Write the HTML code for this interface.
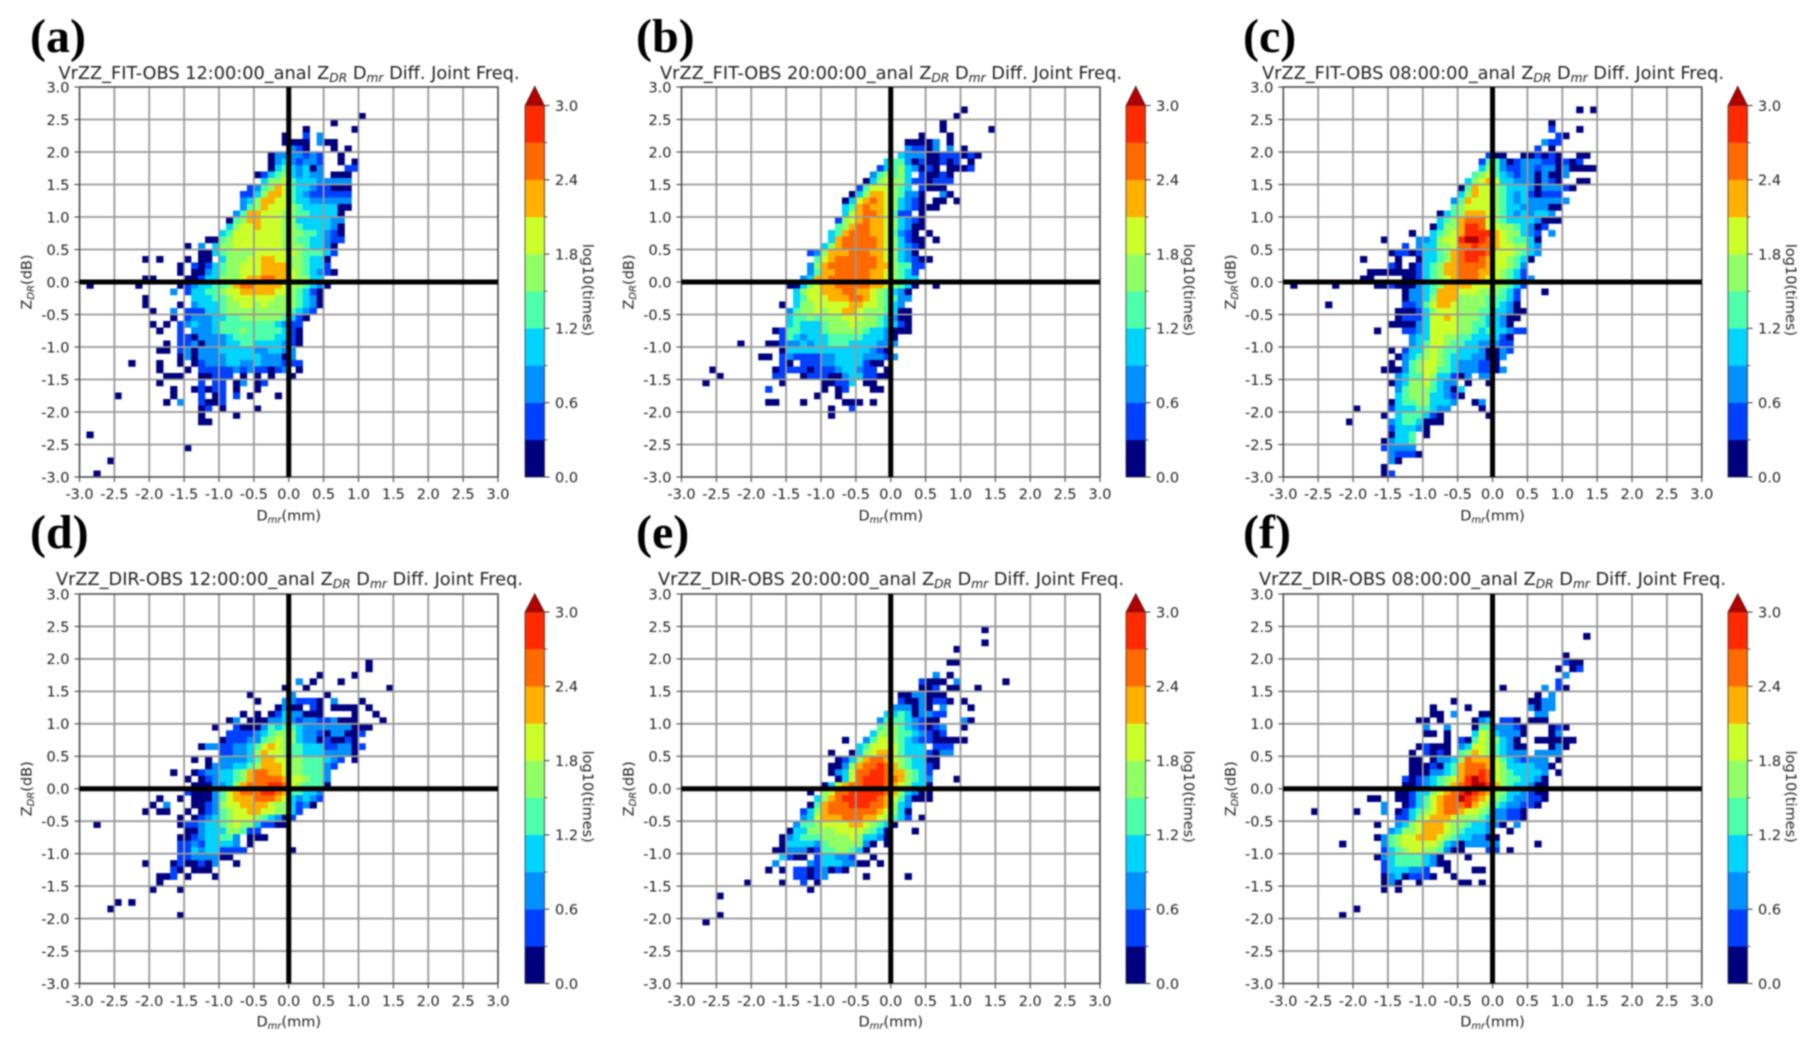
<!DOCTYPE html>
<html lang="en">
<head>
<meta charset="utf-8">
<title>ZDR Dmr Diff. Joint Frequency</title>
<style>
html,body{margin:0;padding:0;background:#fff;width:1816px;height:1048px;overflow:hidden}
svg{display:block;filter:blur(.7px)}
text{font-family:"DejaVu Sans","Liberation Sans",sans-serif;fill:#222}
.letter{font-family:"Liberation Serif",serif;font-weight:bold;font-size:48px;fill:#000}
</style>
</head>
<body>
<svg id="figure" xmlns="http://www.w3.org/2000/svg" width="1816" height="1048" viewBox="0 0 1816 1048"></svg>
<script>
// Every row fragment: [yBin, xBin, band, band, ...]. Bins are 0.1 wide (yBin 3 = 0.3..0.4, xBin -2 = -0.2..-0.1).
// band = log10(times) / 0.3, so band 4 is 1.2..1.5; _ = no samples.
const _ = null;
const panelLetters = ['(a)','(b)','(c)','(d)','(e)','(f)'];
const panelRuns = ['FIT','FIT','FIT','DIR','DIR','DIR'];
const panelTimes = ['12:00:00','20:00:00','08:00:00','12:00:00','20:00:00','08:00:00'];
const xTicks = [-3,-2.5,-2,-1.5,-1,-0.5,0,0.5,1,1.5,2,2.5,3];
const yTicks = [-3,-2.5,-2,-1.5,-1,-0.5,0,0.5,1,1.5,2,2.5,3];
const cbTicks = [0,0.6,1.2,1.8,2.4,3];
const cbMinor = [0.3,0.9,1.5,2.1,2.7];
const bandColors = ['#00007f','#0040ff','#0090ff','#00d4ff','#4dffaa','#90ff66','#ccff2a','#ffb000','#ff6a00','#ff2a00','#b00000'];

const freqA = [
[25,10,0],[24,6,0],[23,2,0],[23,9,0],[22,-1,0,_,_,1],[22,4,2],[21,-1,0,0,0,0],[21,4,2,0,0],[20,0,2,1,0],[20,6,0],[20,8,0],
[19,-3,0,2,2,2,2,1,2,1],[19,7,0],[18,-3,0,2,3,2,1,2,2,1],[18,7,0],[18,9,0],[17,-3,0,3,4,3,2,3,0,2],[17,8,1,1],
[16,-5,0,1,3,4,5,3,2,3,2,2],[16,6,0,0,0],[15,-4,3,5,5,6,4,3,3,3,2,2,2,2,2],[14,-6,1,2,4,5,7,6,4,3,3,2,1,1,0,0,0],
[13,-7,1,1,3,5,7,7,6,4,3,2,1,1,1,1,1,1],[12,-7,2,3,5,7,7,6,6,4,3,3,2,2,2,2,2,2],[11,-7,2,4,5,7,6,6,6,5,4,3,3,3,3,3,0,0],
[10,-8,2,4,7,7,6,6,6,5,5,4,4,3,3,3,3,0],[9,-9,0,4,5,7,7,6,6,6,5,5,3,3,3,3,3,2,2],[8,-9,3,5,6,6,7,6,6,6,5,5,4,3,3,3,3,2,0],
[7,-10,3,4,6,6,6,6,6,6,6,5,5,5,4,4,3,2,1,0],[6,-12,0,0,4,5,6,6,6,6,6,6,6,5,5,4,4,3,3,2,1,1],[5,-15,0],[5,-13,2],
[5,-11,3,5,5,6,6,6,6,6,6,6,5,5,5,4,3,3,2,0],[4,-13,0,0],[4,-11,3,4,5,5,5,5,6,6,6,6,6,6,5,4,4,4,3,1],[3,-21,0],[3,-19,0],[3,-15,0],
[3,-13,0,0],[3,-10,3,5,5,5,6,6,7,7,6,6,5,5,4,3,3,0],[2,-16,0],[2,-14,1,0,1,3,4,5,5,6,6,6,7,7,7,7,5,5,4,3,3,1],
[1,-16,0],[1,-14,0,0,2,3,4,5,5,6,6,6,7,7,7,7,6,5,4,3,2,1],[1,6,0],[0,-21,0,0],[0,-15,0,0,1,3,3,5,5,5,6,7,7,8,8,7,7,6,5,5,3,3],
[-1,-29,0],[-1,-22,0],[-1,-16,0,1,2,3,3,4,4,5,7,8,8,7,7,7,7,6,5,5,4,3,2,0],[-2,-17,2],[-2,-15,1,3,3,4,4,5,6,6,7,7,7,7,7,6,6,5,4,3,1,0],
[-3,-21,0],[-3,-14,3,3,3,4,4,5,6,6,6,6,6,6,5,5,5,4,3,2,0],[-4,-21,0],[-4,-16,0],[-4,-14,2,3,3,3,4,5,5,6,6,5,6,5,5,5,5,4,3,2,0],
[-5,-20,0],[-5,-17,2],[-5,-15,1,1,1,3,3,4,5,5,5,5,5,5,5,5,5,4,3,2,1],[-6,-17,0],[-6,-15,1,2,2,2,3,3,4,4,5,5,5,5,5,5,4,3,1,0],
[-7,-20,0],[-7,-18,0],[-7,-16,1,2,3,2,2,3,4,4,4,4,4,4,4,4,3,2,1,1],[-8,-19,0],[-8,-16,1],[-8,-14,2,2,2,3,4,4,4,5,4,4,4,4,4,3,1,0],
[-9,-16,1,1,0,2,2,2,2,3,4,4,4,4,4,4,3,3,1,0],[-10,-18,0],[-10,-16,1,1,2,0,2,2,2,3,3,4,4,3,3,3,3,2,1,0],
[-11,-19,0,0],[-11,-16,1,2,0,2,2,2,3,3,3,3,3,2,2,3,3,2,2],[-12,-16,0,2,0,2,2,2,2,3,3,3,3,3,2,2,2,0,2],
[-13,-23,0],[-13,-19,0],[-13,-16,0],[-13,-14,0,1,2,2,2,3,3,2,2,3,2,2,2,1,1,1],[-14,-19,0],[-14,-15,0],[-14,-13,1,1,1,1,1,2,1,2,1,1,0,1,2],[-14,1,0],
[-15,-18,0,0,0],[-15,-13,0,0,1,1,1],[-15,-7,0],[-15,-5,0],[-15,-3,0],[-15,0,0],[-16,-19,0],[-16,-13,1],[-16,-11,1,1],[-16,-8,0,2],[-16,-5,0,1],
[-17,-17,0],[-17,-14,0,1,0,1,1],[-17,-8,0],[-17,-5,0],[-18,-25,0],[-18,-17,0],[-18,-13,1],[-18,-11,0,1],[-18,-8,1],[-18,-6,0],[-18,-2,0],
[-19,-18,0],[-19,-16,2],[-19,-13,1,0,0,1],[-20,-13,0,1],[-20,-10,0],[-20,-5,0],[-21,-13,0],[-21,-8,0],[-22,-13,0,0],
[-24,-29,0],[-26,-15,0],[-28,-26,0],[-30,-28,0]
];
const freqB = [
[26,10,0],[25,9,0],[24,7,0],[23,7,0],[23,14,0],[22,4,0],[22,8,0],[21,2,0,0,0,0,2],[21,8,0],[20,2,2,1,1,0,2],[20,8,2],[20,10,0],
[19,1,3,2,2,2,0,0,1,1,1,0,1],[19,12,0],[18,-1,3,4,4,2,0,1,0,0,1,0,1],[18,11,0],[17,-2,1,3,4,5,3,2,0,1,0,_,0,0,0,1],
[16,-3,2,4,5,4,5,3,_,1,0,0,1,0],[15,-4,0,3,5,6,5,5,3,1,1,0,1,1,1],[14,-5,1,4,6,6,6,5,4,3,_,1,0,0,0],[13,-6,0,3,5,7,7,6,5,4,2,2,0,_,_,2,0],
[12,-7,0,3,6,7,8,7,6,5,3,2,1,0],[12,6,0,0],[12,9,0],[11,-7,3,4,7,8,7,7,6,5,3,2,1,0,0,0],[10,-7,3,6,7,8,8,7,6,4,1,1,_,0],
[9,-8,1,5,6,7,8,7,7,6,5,3,2,1,0],[8,-8,4,5,7,8,8,7,7,6,5,3,2,0,0],[7,-9,3,4,7,8,8,8,7,7,6,4,2,1,0,_,0],[6,-9,3,7,8,8,8,8,8,7,6,5,3,1,0,0],[6,6,0],
[5,-10,3,5,7,8,8,8,8,8,7,6,5,3,2,1,0],[4,-12,1,2,5,7,7,7,8,8,8,7,7,6,5,3,2,0],[3,-11,4,6,7,8,8,8,8,8,8,7,6,5,3,2,1,0,0],
[2,-12,2,5,7,8,8,8,8,8,8,8,7,7,5,4,4,1,1],[1,-12,2,4,7,7,8,8,8,8,8,7,7,6,5,4,3,1],[0,-13,2,3,7,7,8,8,8,8,8,8,7,7,6,5,4,3,3],
[-1,-15,0,0,3,5,6,7,7,8,8,8,8,8,7,7,6,5,4,3],[-1,3,0],[-1,6,0],[-2,-14,3,5,6,6,7,7,7,8,8,7,7,6,5,4,3,2,0],[-3,-14,3,4,6,6,6,7,7,7,8,8,7,6,5,4,4,2,2],
[-4,-16,0],[-4,-14,3,5,5,6,6,6,6,6,7,7,6,6,5,4,3,2],[-5,-15,2,4,5,5,6,5,6,6,7,7,6,5,5,5,4,3,0,0],[-6,-15,3,4,4,5,4,5,5,5,6,6,6,5,5,4,3,2,0,0],
[-7,-15,3,4,3,3,3,4,5,5,5,6,5,5,5,4,3,3,1,0],[-8,-17,0,1,4,4,3,3,3,4,5,5,5,5,5,4,3,3,2,0,0,0],[-9,-16,1,4,3,2,3,3,3,4,4,4,4,4,3,3,3,2,0],
[-10,-22,0],[-10,-18,0,0,1,2,2,3,2,3,3,4,4,4,3,3,3,3,2,2,2],[-11,-16,0,3,3,3,3,3,3,3,3,3,3,3,3,2,1,0],[-12,-19,0,0],[-12,-16,1,2,1,1,1,1,2,2,3,3,3,3,2,2,2,1],[-12,0,2],
[-13,-16,1,0,_,1,1,1,2,2,3,3,3,3,1,0,0],[-14,-26,0],[-14,-17,0,1,1,1,1,0,1,1,1,2,3,3,2,1,1,_,0],[-15,-25,0],[-15,-17,1,1],[-15,-13,0,1,1,1,0,0,2,3,3,1,1,0,0],
[-16,-27,0],[-16,-16,0],[-16,-10,0,0,1,1,3],[-16,-4,0,0],[-17,-18,1],[-17,-10,0],[-17,-8,0,1],[-17,-3,0,0],[-18,-11,0],[-18,-8,0],
[-19,-18,0,0],[-19,-13,0],[-19,-7,0,0,0],[-19,-3,0],[-20,-9,0],[-20,-6,1],[-21,-9,0]
];
const freqC = [
[26,12,0],[26,14,0],[24,8,0],[23,8,1],[23,12,0],[22,9,1,0],[21,7,2,1,1],[20,6,1],[20,8,0],[19,-1,1,0,0],[19,4,0,0,1,0,1,0],[19,12,0,0],
[18,-2,1,4,4,2,0,1,2,2,2,1,1,0,1,0,1],[17,-2,3,5,4,2,1,1,2,2,1,2,2,0,2,0,0,0,0],[16,-3,4,5,6,4,3,2,1,2,2,0,2,0,0,2],[15,-4,3,5,6,7,6,3,3,2,2,2,0,2,1,0],[15,12,0,0],
[14,-5,0,4,7,6,6,5,4,3,3,3,2,0,2,2,2,1,0],[13,-5,3,5,7,6,6,5,4,3,2,3,1,0,1,1,1],[12,-6,2,4,7,6,6,6,5,4,3,2,3,2,2,2,2,2,2],
[11,-6,4,5,6,6,6,6,5,4,3,3,2,2,2,2,0,0],[10,-8,0,3,4,5,7,7,7,6,5,4,3,2,3,2,3,3,2],[9,-8,3,4,5,7,8,8,8,6,5,4,3,3,3,3,2,0,0,0],
[8,-9,0,3,5,5,7,9,9,8,6,6,5,5,4,3,2,0,1],[7,-12,0],[7,-9,3,4,5,6,7,9,9,9,9,7,6,5,5,3,2,1],[7,8,2],
[6,-16,0],[6,-11,2,2,3,5,6,6,9,10,10,9,8,7,6,5,4,4,3,0],[5,-13,1],[5,-11,2,3,3,5,5,6,8,8,9,8,8,7,6,6,5,5,3,2],
[4,-15,0,1,1,0,1,3,3,4,5,7,8,9,9,9,8,6,6,6,5,4,3,2],[3,-19,0],[3,-14,0],[3,-11,0,3,3,4,5,7,8,9,9,8,7,6,6,5,4,3,0],
[2,-15,1,0],[2,-12,0,1,3,4,5,7,7,8,8,8,8,7,6,6,5,4,2],[1,-18,0,0,0,0,0,0],[1,-12,0,1,3,4,5,7,7,8,8,8,7,7,6,5,4,3,1],
[0,-19,0,0],[0,-13,0,0,1,3,4,5,6,7,8,8,8,7,6,6,5,4,3,1,2],[-1,-29,0],[-1,-23,0],[-1,-17,0,0,1,0,0,0,2,3,4,5,7,7,7,7,6,6,6,5,5,4,3,1],
[-2,-13,0,2,2,3,4,7,7,7,6,6,6,5,5,5,4,3,1],[-2,7,0],[-3,-13,0,2,2,3,5,7,7,7,5,5,5,5,4,4,4,3,1],[-4,-24,0],[-4,-13,1,1,2,4,6,7,7,6,5,5,5,5,4,4,3,2,0],
[-5,-14,0,0,0,1,3,5,6,6,6,5,5,5,4,4,3,3,2,0,0],[-6,-14,0,1,1,1,3,6,6,7,6,5,5,5,4,3,3,2,0,0],[-7,-15,0,0,0,0,2,3,6,6,6,6,5,5,4,4,3,3,2,0],
[-8,-17,0],[-8,-13,1,1,2,3,6,6,6,6,5,5,4,3,4,3,3,2,1,1],[-9,-12,2,3,3,6,6,5,5,4,4,3,3,3,3,1,0],[-10,-12,2,3,4,6,6,5,4,4,3,3,2,2,2,1,1],
[-11,-15,0],[-11,-13,1,3,3,5,6,5,4,4,3,3,3,2,0,0,2,1],[-12,-14,0,2,3,4,5,6,5,4,3,3,3,2,2,0,0,2],[-13,-15,0],[-13,-13,2,4,5,6,6,5,4,3,2,2,2,1,1,0],
[-14,-16,0,0,0,2,4,5,6,6,4,4,3,2,2,2,1,1,0,2],[-15,-14,2,3,4,4,6,5,3,3,1,0,2],[-15,-2,2,2],[-16,-15,0,2,3,5,5,6,4,3,2,2],[-16,-4,0],[-16,-1,0],
[-17,-14,2,4,5,5,5,4,3,2,0,3],[-18,-14,3,4,5,5,5,3,3,2,1,0],[-19,-15,0,3,4,4,5,5,3,3,3,2],[-19,-3,0,2],[-20,-20,0],[-20,-15,1,3,3,3,4,4,3,2,2],[-20,-2,0],
[-21,-16,0],[-21,-14,3,4,4,4,3,1,0],[-21,-1,0],[-22,-21,0],[-22,-15,2,3,4,4,3,0,0,0],[-23,-15,1,3,3,3,2,0],[-24,-15,0,3,3,4,_,0],
[-25,-16,0,2,3,3,4],[-26,-16,1,2,2,2,2],[-27,-15,2,1,1,1,0],[-28,-15,2,0],[-29,-16,0],[-30,-16,0,1]
];
const freqD = [
[19,11,0],[18,11,0],[17,4,0],[17,9,0],[16,1,2],[16,3,0],[16,7,0],[15,-1,0],[15,2,0],[15,14,0],[14,-6,0],[14,0,2],[14,5,0],
[13,-5,0],[13,-1,2,2,1,1,1,0],[13,6,2],[13,10,0],[12,-2,0,2,0,0,_,1,0],[12,6,0,0,0,0],[12,11,0],[11,-7,0],[11,-5,0],[11,-3,0,1,3,2,2,0,0,0],[11,9,0],[11,12,0],
[10,-9,0,2],[10,-6,0,0,0,2,2,3,2,1,2,2,1,1,2,0,0,0],[10,13,0],[9,-11,0],[9,-8,1,0,0,0,2,4,3,4,4,3,2,2,2,2,2,2,2,0,0,0],
[8,-9,1,1,1,1,2,3,4,5,5,5,3,2,2,1,0,2,2,0,0,1],[7,-10,0,1,1,1,2,2,4,5,6,5,5,3,2,2,0,1,0,0,1,0],[6,-13,0],[6,-12,2,2],[6,-10,1,1,2,2,3,4,6,7,6,5,4,4,3,3,3,1,1,2,2,0,1],
[5,-10,1,1,2,2,3,5,7,6,6,5,4,4,3,3,3,2,2,2,2,0],[4,-14,0],[4,-12,0],[4,-10,2,2,2,2,3,4,7,7,6,6,5,5,4,4,4,3,2,1,_,0],[3,-12,0,2,2,2,3,3,4,5,7,7,7,6,5,5,4,4,4,2,1],
[2,-17,0],[2,-14,0,1,2,2,3,3,4,5,7,8,8,7,7,6,5,5,4,4,4,2],[1,-15,0],[1,-13,0,1,2,3,3,4,5,7,8,8,8,8,7,6,6,5,4,4,2],[0,-14,0,0,0,2,2,3,5,7,8,8,8,9,9,8,6,5,4,4,4,0],
[-1,-15,1,0,0,0,2,4,6,7,8,8,8,9,9,8,7,4,4,3,3,2],[-2,-19,0],[-2,-16,0],[-2,-14,0,0,0,2,4,6,7,7,7,8,8,8,7,6,3,2,3,2,1],[-3,-20,0,_,2],[-3,-14,0,0,1,2,5,6,6,7,7,7,7,6,5,5,3,1,2,0],
[-4,-21,0],[-4,-19,0,0],[-4,-15,0],[-4,-13,0,1,2,4,5,6,6,7,7,6,6,5,5,3,1],[-5,-16,0],[-5,-14,0,1,2,3,4,5,6,6,6,5,4,3,2,0,1],[-6,-28,0],[-6,-16,0,1,1,2,3,3,4,5,6,5,5,3,1,1,0,0],
[-7,-15,0,0,2,3,3,3,5,5,4,1,1],[-8,-16,0,0,1,2,3,3,4,4,2,_,0,0,0],[-9,-16,1,1,2,1,3,3,3,3,2,_,0],[-10,-16,1,1,3,2,3,3,1,1,1,1],[-10,0,0],[-11,-16,1,1,2,2,2,2,0,0],
[-12,-21,0],[-12,-17,0,1,0,0,1,0,2],[-12,-8,0],[-13,-17,1,0,_,0,0,0],[-14,-19,0,0,1],[-14,-15,0],[-14,-11,0],[-15,-19,0],[-16,-20,0],[-16,-16,0],
[-18,-25,0],[-18,-23,0],[-19,-26,0],[-20,-16,0]
];
const freqE = [
[24,13,0],[22,13,0],[21,9,0],[19,8,0,0],[17,6,2],[17,8,0],[16,4,1,0,0,0],[16,9,2],[16,16,0],[15,4,0,0,1],[15,8,0,0],[15,12,0],[14,1,0,0,2,2,0,0,0],
[13,1,1,0,0,2,0,1,1,0],[13,10,0],[12,0,2,2,2,0,2,0,_,2],[12,11,0],[11,-1,3,3,4,3,0,2,2,1,1],[10,-2,2,4,4,4,3,2,1,0,0],[10,10,2,0],[9,-2,4,5,5,4,3,2,1,0,1,2],[9,10,0],
[8,-3,3,5,5,5,4,4,3,2,1,0,1],[7,-7,0],[7,-4,2,4,6,6,5,4,3,2,1,1,0,0,0,0,0],[6,-5,3,4,6,6,6,6,4,3,3,3,_,1,1,1],[5,-9,0],[5,-6,0,3,5,6,7,7,6,4,3,3,3,1,0,2,2],
[4,-8,0,1,3,5,7,8,8,7,6,5,4,3,3,0,0],[3,-9,0,0,2,5,7,8,8,9,8,7,5,4,3,3,1,0],[2,-9,0,2,3,6,8,8,9,9,8,7,7,5,4,3,1],[1,-8,0,3,6,8,9,9,9,8,8,7,5,4,3,2],[1,9,0],
[0,-10,0],[0,-9,3,6,7,8,8,9,9,9,8,7,6,5,3,3],[0,5,0],[-1,-12,0],[-1,-10,5,6,8,8,9,9,9,9,9,8,7,5,3,2,0,0],[-2,-11,3,5,7,8,9,9,9,9,9,8,7,6,4,2,0,0,0],
[-3,-12,0,4,7,8,8,8,9,9,9,8,8,7,5,3,2],[-4,-13,1,3,5,7,8,8,8,8,8,8,8,7,6,5,3,0],[-5,-13,2,3,6,7,7,7,8,8,8,7,7,6,5,4,3,1,_,0],[-6,-14,2,4,4,5,6,6,6,6,7,7,6,5,4,3,0],
[-7,-15,0,3,3,5,5,5,5,6,6,6,6,5,4,3,0],[-7,3,0],[-8,-16,0,2,3,4,4,4,5,5,5,5,6,5,3,3,2,0],[-9,-16,0,3,3,3,3,2,4,5,5,5,5,5,2,0],[-9,-1,0],
[-10,-17,0,0,2,2,2,0,1,4,4,5,5,4,3,0],[-11,-16,3,1,0,0,_,1,3,3,2,2,1],[-11,-3,0],[-12,-17,2],[-12,-12,2,1,3,3,3,2,2],[-12,-5,0,0],[-12,-2,0],
[-13,-18,0],[-13,-16,0],[-13,-14,1,1,0,1,2,0,1,0],[-14,-14,1,1,0,1,2],[-14,-4,0],[-14,2,0],[-15,-21,0],[-15,-16,0],[-15,-13,1,_,0],[-16,-12,0],
[-17,-25,0],[-20,-25,0],[-21,-27,0]
];
const freqF = [
[23,13,0],[20,10,0],[19,10,1,0,0],[18,9,0],[18,11,0,1],[17,10,2],[16,9,1],[15,1,0],[15,7,2],[15,9,1,0],[14,6,0],[14,8,2],[13,-6,0],[13,5,0,0,2,2],
[12,-9,0],[12,-4,0],[12,5,2,0,2,2],[11,-9,0,0],[11,-6,2],[11,-2,0,0],[11,6,2,2],[10,-11,0,0],[10,-8,0],[10,-3,0,2,3],[10,1,1,1,0,_,0,0,0],
[9,-10,2],[9,-7,2],[9,-3,0,4,4,2,2,2,1,0],[9,8,0,1,0],[8,-10,0,0],[8,-7,0],[8,-3,3,6,5,3,2,2,2,0],[8,8,0,2],
[7,-7,0],[7,-5,1,0,4,6,5,5,3,2,0],[7,6,0,0,0,0,0,0],[6,-11,0,1,0,0,0],[6,-5,2,3,6,6,5,4,3,2,0,0],[6,8,0,2,0],[5,-12,0],[5,-10,1,0,1,0],[5,-5,4,5,7,6,5,4,3,2,2,2],[5,6,2,2,2,2],
[4,-12,0,0,_,0,2,2,3,5,8,7,7,7,6,4,3,2,1,2,2,2,_,0],[3,-12,0,0,0,1,0,3,4,7,8,8,8,7,6,5,3,3,3,3,2,2,0],[2,-12,0,0,0,2,2,3,4,7,8,8,9,8,6,5,4,3,3,3,3,2,_,0],
[1,-13,1,0,1,2,3,4,5,6,7,9,10,9,8,6,5,4,4,3,3,2,0],[0,-13,0,0,1,2,3,4,5,7,8,9,10,10,9,7,5,4,3,3,2,0,0],[-1,-14,0,0,1,3,3,5,6,7,8,9,10,9,8,7,5,5,3,3,2,1,0,0],
[-2,-18,0,0],[-2,-14,0,0,1,3,4,6,7,8,8,10,9,8,7,6,5,4,3,2,2,1,1,0],[-3,-16,2],[-3,-13,0,1,3,4,6,7,8,8,8,9,7,6,5,4,3,2,2,1,1,0],
[-4,-26,0],[-4,-20,0],[-4,-16,2],[-4,-14,0,1,3,4,5,6,7,8,8,7,6,6,5,4,2,2,1,1,0],[-5,-14,1,1,3,5,6,7,7,7,6,5,5,5,4,3,2,2,1,1,0],
[-6,-17,0],[-6,-14,2,3,5,6,7,7,7,6,5,5,4,3,3,2,2,0,_,2],[-7,-15,2,3,5,5,6,7,7,7,6,5,4,3,3,3,2],[-7,2,0],[-8,-17,0,2,4,5,6,6,7,7,7,6,5,4,3,3,2,2,0,0],
[-9,-22,0],[-9,-16,2,4,5,6,6,6,6,6,5,3,2,0,2,2,2,2,2],[-9,6,0],[-10,-16,1,3,4,5,6,6,5,5,4,2,0,0],[-10,-1,1,1],[-10,2,0],
[-11,-17,0,2,3,4,4,4,4,3,2,0],[-11,-4,0],[-12,-16,1,3,4,4,4,4,3,2,0,0],[-13,-16,1,3,3,3,2,2,1],[-13,-7,0],[-13,-3,0,0],[-14,-16,0,2,3,0,1,1,1,0],[-14,-6,0],
[-15,-16,0,2,0],[-15,-11,0],[-15,-5,0,0],[-15,-2,0],[-16,-16,0],[-16,-14,0],[-19,-20,0],[-20,-22,0]
];
const panelFreq = [freqA,freqB,freqC,freqD,freqE,freqF];

const svgNS = 'http://www.w3.org/2000/svg';
const figure = document.getElementById('figure');
const plotWidth = 418.5;
const axisMin = -3, axisMax = 3, cbMax = 3;
const columns = [
  {left:79.5, cb:525, letter:30, titleL:[58.5,461], titleR:[56,467]},
  {left:681.5, cb:1126, letter:636, titleL:[660,462], titleR:[658,466]},
  {left:1283.3, cb:1728, letter:1243, titleL:[1262,462], titleR:[1259,467]}
];
const rowsLayout = [
  {top:87, bottom:477, cbTop:105.5, tip:86, letterY:52, titleY:79, tickY:499, labelY:520.5},
  {top:594, bottom:983.5, cbTop:612, tip:593.4, letterY:548, titleY:585, tickY:1006, labelY:1026.5}
];

function make(tag, attrs, parent, text) {
  const el = document.createElementNS(svgNS, tag);
  for (const k in attrs) el.setAttribute(k, attrs[k]);
  if (text !== undefined) el.textContent = text;
  parent.appendChild(el);
  return el;
}
function fmt(v) { return v.toFixed(1); }
function subscripted(el, pieces) {
  pieces.forEach(function (p) {
    const t = make('tspan', {}, el, p[0]);
    if (p[1]) {
      t.setAttribute('font-style', 'italic');
      t.setAttribute('font-size', p[1]);
      t.setAttribute('dy', p[2]);
    } else if (p[2]) {
      t.setAttribute('dy', p[2]);
    }
  });
}

panelFreq.forEach(function (rows, idx) {
  const col = columns[idx % 3];
  const row = rowsLayout[Math.floor(idx / 3)];
  const left = col.left, right = col.left + plotWidth, top = row.top, bottom = row.bottom;
  const sx = function (v) { return left + (v - axisMin) / (axisMax - axisMin) * plotWidth; };
  const sy = function (v) { return bottom - (v - axisMin) / (axisMax - axisMin) * (bottom - top); };
  const cy = function (v) { return bottom - v / cbMax * (bottom - row.cbTop); };

  const g = make('g', {}, figure);
  
  

  const letter = make('text', {x: col.letter, y: row.letterY, class: 'letter'}, g, panelLetters[idx]);
  
  

  const titleGeom = idx < 3 ? col.titleL : col.titleR;
  const title = make('text', {x: titleGeom[0], y: row.titleY, 'font-size': 17.4, textLength: titleGeom[1], lengthAdjust: 'spacingAndGlyphs'}, g);
  
  
  subscripted(title, [['VrZZ_' + panelRuns[idx] + '-OBS ' + panelTimes[idx] + '_anal Z'], ['DR', 12, 3], [' D', 0, -3], ['mr', 12, 3], [' Diff. Joint Freq.', 0, -3]]);

  const cells = make('g', {}, g);
  
  
  rows.forEach(function (frag) {
    const yBin = frag[0], xBin = frag[1];
    for (let i = 2; i < frag.length; i++) {
      const band = frag[i];
      if (band === null) continue;
      const x0 = sx((xBin + i - 2) / 10), x1 = sx((xBin + i - 1) / 10);
      const y1 = sy(yBin / 10), y0 = sy((yBin + 1) / 10);
      const cell = make('rect', {x: x0, y: y0, width: x1 - x0 + 0.25, height: y1 - y0 + 0.25, fill: bandColors[Math.min(band, bandColors.length - 1)]}, cells);
      
      
    }
  });

  xTicks.forEach(function (v) {
    const line = make('line', {x1: sx(v), x2: sx(v), y1: top, y2: bottom, stroke: '#999', 'stroke-width': 1.8}, g);
    
    
    const tick = make('line', {x1: sx(v), x2: sx(v), y1: bottom, y2: bottom + 5, stroke: '#333', 'stroke-width': 1}, g);
    
    
    const label = make('text', {x: sx(v), y: row.tickY, 'font-size': 14.5, 'text-anchor': 'middle'}, g, fmt(v));
    
    
  });
  yTicks.forEach(function (v) {
    const line = make('line', {x1: left, x2: right, y1: sy(v), y2: sy(v), stroke: '#999', 'stroke-width': 1.8}, g);
    
    
    const tick = make('line', {x1: left - 5, x2: left, y1: sy(v), y2: sy(v), stroke: '#333', 'stroke-width': 1}, g);
    
    
    const label = make('text', {x: left - 10, y: sy(v) + 5.3, 'font-size': 14.5, 'text-anchor': 'end'}, g, fmt(v));
    
    
  });

  const spine = make('rect', {x: left, y: top, width: plotWidth, height: bottom - top, fill: 'none', stroke: '#444', 'stroke-width': 1.2}, g);
  
  

  const zeroV = make('line', {x1: sx(0), x2: sx(0), y1: top, y2: bottom, stroke: '#000', 'stroke-width': 5}, g);
  
  
  const zeroH = make('line', {x1: left, x2: right, y1: sy(0), y2: sy(0), stroke: '#000', 'stroke-width': 5}, g);
  
  

  const xLabel = make('text', {x: sx(0), y: row.labelY, 'font-size': 14.5, 'text-anchor': 'middle'}, g);
  
  
  subscripted(xLabel, [['D'], ['mr', 10, 2.5], ['(mm)', 0, -2.5]]);

  const yLabelX = left - 48, yLabelY = sy(0);
  const yLabel = make('text', {x: yLabelX, y: yLabelY, 'font-size': 14.5, 'text-anchor': 'middle', transform: 'rotate(-90 ' + yLabelX + ' ' + yLabelY + ')'}, g);
  
  
  subscripted(yLabel, [['Z'], ['DR', 10, 2.5], ['(dB)', 0, -2.5]]);

  // colorbar
  const cbW = 19.5;
  const cb = make('g', {}, g);
  
  
  for (let b = 0; b < 10; b++) {
    const band = make('rect', {x: col.cb, y: cy((b + 1) * 0.3), width: cbW, height: cy(b * 0.3) - cy((b + 1) * 0.3) + 0.2, fill: bandColors[b]}, cb);
    
    
  }
  const tip = make('polygon', {points: col.cb + ',' + row.cbTop + ' ' + (col.cb + cbW) + ',' + row.cbTop + ' ' + (col.cb + cbW / 2) + ',' + row.tip, fill: bandColors[10], stroke: '#333', 'stroke-width': 0.6}, cb);
  
  
  const cbFrame = make('polyline', {points: col.cb + ',' + row.cbTop + ' ' + col.cb + ',' + bottom + ' ' + (col.cb + cbW) + ',' + bottom + ' ' + (col.cb + cbW) + ',' + row.cbTop, fill: 'none', stroke: '#333', 'stroke-width': 0.8}, cb);
  
  
  cbTicks.forEach(function (v) {
    const tick = make('line', {x1: col.cb + cbW, x2: col.cb + cbW + 5, y1: cy(v), y2: cy(v), stroke: '#333', 'stroke-width': 1}, cb);
    
    
    const label = make('text', {x: col.cb + 30, y: cy(v) + 5.3, 'font-size': 14.5}, cb, fmt(v));
    
    
  });
  cbMinor.forEach(function (v) {
    const tick = make('line', {x1: col.cb + cbW, x2: col.cb + cbW + 3, y1: cy(v), y2: cy(v), stroke: '#333', 'stroke-width': 0.8}, cb);
    
    
  });
  const cbLabelX = col.cb + 58, cbLabelY = (row.top + row.bottom) / 2 + 8;
  const cbLabel = make('text', {x: cbLabelX, y: cbLabelY, 'font-size': 14.5, 'text-anchor': 'middle', transform: 'rotate(90 ' + cbLabelX + ' ' + cbLabelY + ')'}, cb, 'log10(times)');
  
  
});
</script>
</body>
</html>
